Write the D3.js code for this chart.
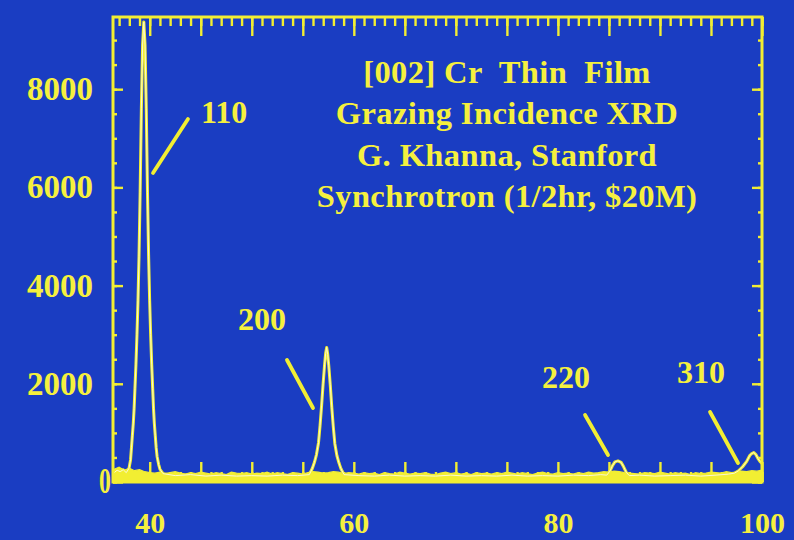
<!DOCTYPE html>
<html>
<head>
<meta charset="utf-8">
<script src="https://cdn.jsdelivr.net/npm/d3@7/dist/d3.min.js"></script>
<style>
  html, body { margin: 0; padding: 0; background: #1a3dc2; }
  svg { display: block; }
  text { font-family: "Liberation Serif", "Times New Roman", serif; font-weight: bold; fill: #f5f03e; white-space: pre; }
</style>
</head>
<body>
<svg id="chart" width="794" height="540"></svg>
<script>
// Grazing-incidence XRD scan of a [002] Cr thin film: 2-theta (deg) vs counts
const twoTheta = [
  36.4, 36.8, 37.1, 37.4, 37.7, 37.97, 38.12, 38.21, 38.30, 38.39, 38.47, 38.55, 38.65, 38.75, 38.85,
  38.95, 39.06, 39.18, 39.30, 39.42, 39.54, 39.66, 39.78, 39.89, 39.99, 40.09, 40.19, 40.29, 40.37,
  40.45, 40.54, 40.63, 40.72, 40.87, 41.0, 41.3,
  42.5, 44.0, 45.5, 47.0, 48.5, 50.0, 51.5, 53.0, 54.5, 55.64,
  55.94, 56.14, 56.34, 56.54, 56.69, 56.84, 56.99, 57.14, 57.24, 57.34, 57.44, 57.54, 57.69, 57.84,
  57.99, 58.14, 58.34, 58.54, 58.74, 59.04,
  60.5, 62.0, 63.5, 65.0, 66.5, 68.0, 69.5, 71.0, 72.5, 74.0, 75.5, 77.0, 78.5, 80.0, 81.5, 83.0, 84.2,
  84.79, 85.09, 85.34, 85.59, 85.89, 86.19, 86.44, 86.69, 86.99,
  88.0, 89.5, 91.0, 92.5, 94.0, 95.5, 96.7,
  97.3, 97.7, 98.1, 98.5, 98.8, 99.0, 99.2, 99.4, 99.6, 99.8, 100.0
];
const counts = [
  170, 240, 210, 250, 190, 280, 450, 700, 950, 1200, 1500, 1900, 2400, 3000, 3700,
  4600, 5900, 7600, 8900, 9370, 8900, 7600, 5900, 4600, 3700, 3000, 2400, 1900, 1500,
  1200, 950, 700, 520, 360, 260, 170,
  130, 150, 120, 140, 120, 130, 120, 140, 130, 150,
  280, 400, 560, 800, 1150, 1550, 2000, 2400, 2620, 2740, 2600, 2380, 1980, 1520,
  1120, 780, 540, 390, 270, 150,
  130, 120, 140, 120, 130, 120, 140, 120, 130, 120, 140, 120, 130, 120, 140, 130, 150,
  140, 220, 330, 410, 430, 400, 310, 200, 130,
  140, 120, 130, 140, 120, 140, 160,
  180, 230, 310, 420, 540, 580, 600, 560, 480, 420, 380
];

// Background noise envelope, sampled every 0.5 deg starting at 36.5 deg
const noiseStart = 36.5;
const noiseStep = 0.5;
const noiseCounts = [
  260, 300, 240, 280, 230, 250, 210, 190,
  180, 200, 170, 190, 210, 180, 160, 190, 170, 200,
  180, 160, 190, 170, 150, 200, 180, 170, 190, 160,
  180, 170, 200, 160, 190, 170, 150, 190, 180, 160,
  190, 210, 200, 180, 190, 210, 200, 170, 190, 180,
  160, 190, 170, 180, 150, 190, 170, 160, 200, 180,
  160, 180, 170, 190, 160, 150, 180, 200, 170, 190,
  160, 180, 150, 190, 170, 180, 160, 190, 170, 200,
  180, 160, 190, 170, 150, 180, 200, 170, 160, 190,
  170, 180, 160, 190, 170, 200, 180, 190, 210, 200,
  220, 210, 190, 180, 170, 160, 190, 180, 170, 200,
  180, 160, 190, 170, 180, 150, 190, 170, 180, 200,
  190, 180, 210, 190, 200, 220, 210, 230, 220, 240
];

// Axis tick values and labels
const xLabelTicks = [40, 60, 80, 100];
const yLabelTicks = [0, 2000, 4000, 6000, 8000];

// Reflection indices with label anchors and leader lines (in data units)
const peakLabels = ["110", "200", "220", "310"];
const labelTheta = [47.28, 51.0, 80.79, 94.02];
const labelCounts = [7311, 3096, 1914, 2016];
const leaderFromTheta = [40.32, 53.45, 82.66, 94.91];
const leaderFromCounts = [6293, 2485, 1365, 1426];
const leaderToTheta = [43.75, 56.0, 84.91, 97.65];
const leaderToCounts = [7393, 1507, 550, 387];

const titleLines = [
  "[002] Cr  Thin  Film",
  "Grazing Incidence XRD",
  "G. Khanna, Stanford",
  "Synchrotron (1/2hr, $20M)"
];

const YELLOW = "#f2ee32";
const svg = d3.select("#chart");
const plot = { left: 113, top: 17, right: 762, bottom: 482 };

const x = d3.scaleLinear().domain([36.4, 100]).range([plot.left, plot.right]);
const y = d3.scaleLinear().domain([0, 9470]).range([plot.bottom, plot.top]);

svg.append("defs").append("clipPath").attr("id", "frameClip")
  .append("rect")
  .attr("x", plot.left).attr("y", plot.top)
  .attr("width", plot.right - plot.left).attr("height", plot.bottom - plot.top);

// tick marks pointing into the frame on all four sides
function tickAxis(gen, tx, ty, values, size) {
  const g = svg.append("g").attr("transform", `translate(${tx},${ty})`)
    .call(gen.tickValues(values).tickSize(size).tickFormat(""));
  g.select(".domain").remove();
  g.selectAll(".tick line").attr("stroke", YELLOW).attr("stroke-width", 2.4);
  return g;
}
const xMinor = d3.range(37, 101, 1);
const xMajor = d3.range(40, 101, 5);
const yMinor = d3.range(0, 9470, 500);
const yMajor = d3.range(0, 9470, 2000);

tickAxis(d3.axisBottom(x), 0, plot.bottom, xMinor, -10);
tickAxis(d3.axisBottom(x), 0, plot.bottom, xMajor, -20);
tickAxis(d3.axisTop(x), 0, plot.top, xMinor, -9);
tickAxis(d3.axisTop(x), 0, plot.top, xMajor, -19);
tickAxis(d3.axisLeft(y), plot.left, 0, yMinor, -4);
tickAxis(d3.axisLeft(y), plot.left, 0, yMajor, -10);
tickAxis(d3.axisRight(y), plot.right, 0, yMinor, -4);
tickAxis(d3.axisRight(y), plot.right, 0, yMajor, -10);

// tick labels
const xLab = svg.append("g").attr("transform", `translate(0,${plot.bottom})`)
  .call(d3.axisBottom(x).tickValues(xLabelTicks).tickSize(0).tickPadding(30).tickFormat(d3.format("d")));
xLab.select(".domain").remove();
xLab.selectAll("text").attr("fill", "#f5f03e").attr("font-size", 30)
  .attr("font-family", "Liberation Serif, serif").attr("font-weight", "bold");

const yLab = svg.append("g").attr("transform", `translate(${plot.left},0)`)
  .call(d3.axisLeft(y).tickValues(yLabelTicks).tickSize(0).tickPadding(20).tickFormat(d3.format("d")));
yLab.select(".domain").remove();
yLab.selectAll("text").attr("fill", "#f5f03e").attr("font-size", 33)
  .attr("font-family", "Liberation Serif, serif").attr("font-weight", "bold");
yLab.selectAll(".tick").filter(d => d === 0).select("text")
  .attr("x", -3).attr("transform", "scale(0.72,1.08)").attr("dy", "0.3em");

// data: noise floor band and diffraction trace
const clipped = svg.append("g").attr("clip-path", "url(#frameClip)");

const noiseArea = d3.area()
  .x((d, i) => x(noiseStart + i * noiseStep))
  .y0(y(0))
  .y1(d => y(d));
clipped.append("path")
  .datum(noiseCounts)
  .attr("d", noiseArea)
  .attr("fill", YELLOW)
  .attr("stroke", YELLOW)
  .attr("stroke-width", 1.2);

const trace = d3.line()
  .x(i => x(twoTheta[i]))
  .y(i => y(counts[i]));
const idx = d3.range(twoTheta.length);
clipped.append("path")
  .attr("d", trace(idx))
  .attr("fill", "none")
  .attr("stroke", YELLOW)
  .attr("stroke-width", 3)
  .attr("stroke-linejoin", "round");
clipped.append("path")
  .attr("d", trace(idx))
  .attr("fill", "none")
  .attr("stroke", "#fbf9d2")
  .attr("stroke-width", 1)
  .attr("stroke-linejoin", "round");

// frame
svg.append("rect")
  .attr("x", plot.left).attr("y", plot.top)
  .attr("width", plot.right - plot.left).attr("height", plot.bottom - plot.top)
  .attr("fill", "none").attr("stroke", YELLOW).attr("stroke-width", 3);

// peak labels and leader lines
peakLabels.forEach((lab, i) => {
  svg.append("line")
    .attr("x1", x(leaderFromTheta[i])).attr("y1", y(leaderFromCounts[i]))
    .attr("x2", x(leaderToTheta[i])).attr("y2", y(leaderToCounts[i]))
    .attr("stroke", YELLOW).attr("stroke-width", 3.8).attr("stroke-linecap", "round");
  svg.append("text")
    .attr("x", x(labelTheta[i])).attr("y", y(labelCounts[i]))
    .attr("text-anchor", "middle")
    .attr("font-size", 32)
    .text(lab);
});

// title block
svg.append("g").selectAll("text")
  .data(titleLines)
  .join("text")
  .attr("x", 507)
  .attr("y", (d, i) => 83 + i * 41.3)
  .attr("text-anchor", "middle")
  .attr("font-size", 32.5)
  .attr("letter-spacing", 0.4)
  .text(d => d);
</script>
</body>
</html>
